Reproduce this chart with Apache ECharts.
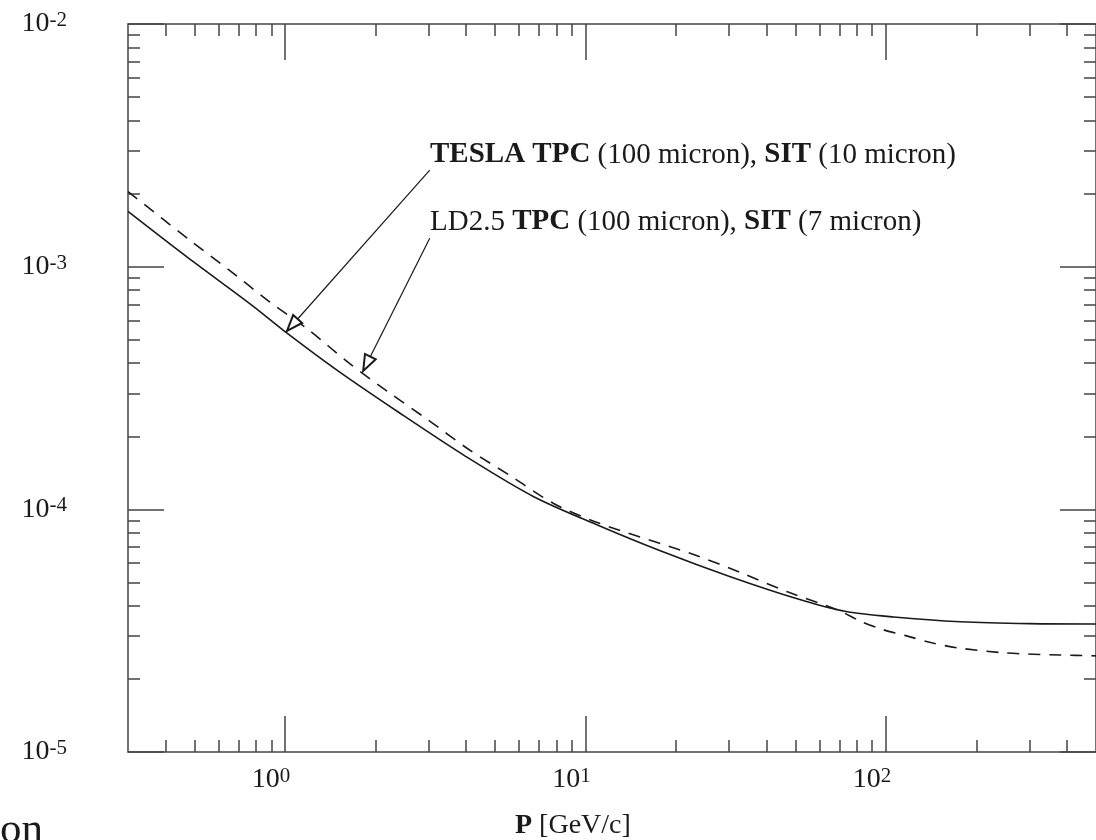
<!DOCTYPE html>
<html lang="en">
<head>
    <meta charset="UTF-8">
    <title>Momentum resolution</title>
    <script src="https://cdn.jsdelivr.net/npm/echarts@6/dist/echarts.min.js"></script>
    <style>
        body {
            margin: 0;
            padding: 0;
            background-color: #fff;
        }
        #chart {
            width: 1096px;
            height: 840px;
        }
    </style>
</head>
<body>
<div id="chart"></div>

<script>
    // TESLA TPC (100 micron), SIT (10 micron) - solid line
    var teslaP = [0.3, 0.47, 0.78, 1.0, 1.5, 2.4, 4.0, 6.7, 11, 18, 30, 50, 73, 106, 177, 300, 500];
    var teslaRes = [1.69e-3, 1.10e-3, 6.9e-4, 5.4e-4, 3.72e-4, 2.5e-4, 1.65e-4, 1.13e-4, 8.6e-5, 6.7e-5,
        5.3e-5, 4.3e-5, 3.8e-5, 3.6e-5, 3.44e-5, 3.38e-5, 3.37e-5];

    // LD2.5 TPC (100 micron), SIT (7 micron) - dashed line
    var ld25P = [0.3, 0.48, 0.65, 0.89, 1.2, 1.63, 2.2, 3.0, 4.1, 5.7, 7.8, 11, 23, 33, 47, 69, 83, 98,
        117, 142, 172, 250, 380, 500];
    var ld25Res = [2.04e-3, 1.29e-3, 9.7e-4, 7.15e-4, 5.48e-4, 4.01e-4, 3.05e-4, 2.33e-4, 1.76e-4, 1.36e-4,
        1.06e-4, 8.8e-5, 6.5e-5, 5.47e-5, 4.57e-5, 3.85e-5, 3.44e-5, 3.19e-5, 3.01e-5, 2.82e-5, 2.69e-5,
        2.56e-5, 2.51e-5, 2.49e-5];

    // axis ticks
    var xMajor = [1, 10, 100];
    var xMinor = [0.4, 0.5, 0.6, 0.7, 0.8, 0.9, 2, 3, 4, 5, 6, 7, 8, 9,
        20, 30, 40, 50, 60, 70, 80, 90, 200, 300, 400];
    var yMajor = [1e-5, 1e-4, 1e-3, 1e-2];
    var yMinor = [2e-5, 3e-5, 4e-5, 5e-5, 6e-5, 7e-5, 8e-5, 9e-5,
        2e-4, 3e-4, 4e-4, 5e-4, 6e-4, 7e-4, 8e-4, 9e-4,
        2e-3, 3e-3, 4e-3, 5e-3, 6e-3, 7e-3, 8e-3, 9e-3];

    // arrows: [from P, from value], [to P, to value]
    var teslaArrow = [[3.03, 2.5e-3], [1.057, 5.75e-4]];
    var ld25Arrow = [[3.03, 1.31e-3], [1.87, 3.98e-4]];

    var chart = echarts.init(document.getElementById('chart'));

    var serif = '"Liberation Serif", "Times New Roman", serif';
    var ink = '#1a1a1a';
    var frame = { color: '#444', width: 1.5 };

    function pairs(xs, ys) {
        return xs.map(function (x, i) { return [x, ys[i]]; });
    }

    function powLabel(v) {
        return '10{sup|' + Math.round(Math.log10(v)) + '}';
    }

    var labelRich = {
        sup: { fontSize: 21, lineHeight: 21, verticalAlign: 'top', fontFamily: serif, color: ink }
    };

    function axis(kind, pos, major, min, max, ticks, withLabels) {
        var a = {
            type: 'log',
            logBase: 10,
            position: pos,
            min: min,
            max: max,
            axisLine: { show: major, onZero: false, lineStyle: frame },
            axisTick: {
                show: true,
                inside: true,
                length: major ? 36 : 12,
                customValues: ticks,
                lineStyle: frame
            },
            axisLabel: { show: false },
            splitLine: { show: false },
            minorTick: { show: false }
        };
        if (withLabels) {
            a.axisLabel = {
                show: true,
                customValues: ticks,
                formatter: powLabel,
                fontFamily: serif,
                fontSize: 28,
                lineHeight: 28,
                color: ink,
                rich: labelRich
            };
            if (kind === 'x') {
                a.axisLabel.margin = 14;
                a.axisLabel.padding = [0, 28, 0, 0];
            } else {
                a.axisLabel.margin = 61;
            }
        }
        return a;
    }

    var boldRich = { b: { fontFamily: serif, fontSize: 29, fontWeight: 'bold' } };

    var option = {
        animation: false,
        backgroundColor: '#fff',
        grid: { left: 128, top: 24, width: 976, height: 728, containLabel: false },
        xAxis: [
            axis('x', 'bottom', true, 0.3, 500, xMajor, true),
            axis('x', 'bottom', false, 0.3, 500, xMinor, false),
            axis('x', 'top', true, 0.3, 500, xMajor, false),
            axis('x', 'top', false, 0.3, 500, xMinor, false)
        ],
        yAxis: [
            axis('y', 'left', true, 1e-5, 1e-2, yMajor, true),
            axis('y', 'left', false, 1e-5, 1e-2, yMinor, false),
            axis('y', 'right', true, 1e-5, 1e-2, yMajor, false),
            axis('y', 'right', false, 1e-5, 1e-2, yMinor, false)
        ],
        series: [
            {
                name: 'TESLA TPC (100 micron), SIT (10 micron)',
                type: 'line',
                xAxisIndex: 0,
                yAxisIndex: 0,
                data: pairs(teslaP, teslaRes),
                showSymbol: false,
                smooth: 0.3,
                lineStyle: { color: ink, width: 1.6 },
                markLine: {
                    silent: true,
                    symbol: ['none', 'emptyTriangle'],
                    symbolSize: [12, 16],
                    label: { show: false },
                    lineStyle: { color: ink, width: 1.2, type: 'solid' },
                    data: [[{ coord: teslaArrow[0] }, { coord: teslaArrow[1] }]]
                }
            },
            {
                name: 'LD2.5 TPC (100 micron), SIT (7 micron)',
                type: 'line',
                xAxisIndex: 0,
                yAxisIndex: 0,
                data: pairs(ld25P, ld25Res),
                showSymbol: false,
                smooth: 0.3,
                lineStyle: { color: ink, width: 1.6, type: [12, 9] },
                markLine: {
                    silent: true,
                    symbol: ['none', 'emptyTriangle'],
                    symbolSize: [12, 16],
                    label: { show: false },
                    lineStyle: { color: ink, width: 1.2, type: 'solid' },
                    data: [[{ coord: ld25Arrow[0] }, { coord: ld25Arrow[1] }]]
                }
            }
        ],
        graphic: [
            {
                type: 'text',
                x: 430,
                y: 155,
                style: {
                    text: '{b|TESLA TPC} (100 micron), {b|SIT} (10 micron)',
                    fontFamily: serif,
                    fontSize: 29,
                    fill: ink,
                    verticalAlign: 'middle',
                    rich: boldRich
                }
            },
            {
                type: 'text',
                x: 430,
                y: 222,
                style: {
                    text: 'LD2.5 {b|TPC} (100 micron), {b|SIT} (7 micron)',
                    fontFamily: serif,
                    fontSize: 29,
                    fill: ink,
                    verticalAlign: 'middle',
                    rich: boldRich
                }
            },
            {
                // x axis title
                type: 'text',
                x: 515,
                y: 826,
                style: {
                    text: '{b|P} [GeV/c]',
                    fontFamily: serif,
                    fontSize: 28,
                    fill: ink,
                    verticalAlign: 'middle',
                    rich: { b: { fontFamily: serif, fontSize: 28, fontWeight: 'bold' } }
                }
            },
            {
                // cut-off text from the page below the figure
                type: 'text',
                x: 0,
                y: 852,
                style: {
                    text: 'on',
                    fontFamily: serif,
                    fontSize: 43,
                    fill: ink,
                    verticalAlign: 'bottom'
                }
            }
        ]
    };

    chart.setOption(option);
</script>
</body>
</html>
